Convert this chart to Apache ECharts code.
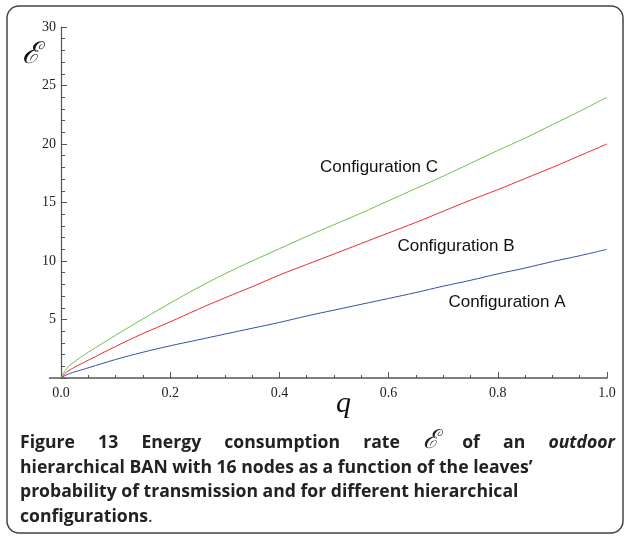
<!DOCTYPE html>
<html>
<head>
<meta charset="utf-8">
<script src="https://cdn.jsdelivr.net/npm/echarts@6/dist/echarts.min.js"></script>
<style>html,body{margin:0;padding:0;background:#fff;}#c{width:625px;height:540px;}</style>
</head>
<body>
<div id="c"></div>
<script>
var qValues = [0, 0.01, 0.025, 0.05, 0.1, 0.15, 0.2, 0.25, 0.3, 0.35, 0.4, 0.45, 0.5, 0.55, 0.6, 0.65, 0.7, 0.75, 0.8, 0.85, 0.9, 0.95, 1.0];
var configA = [0, 0.27, 0.52, 0.87, 1.58, 2.2, 2.75, 3.25, 3.75, 4.25, 4.75, 5.3, 5.8, 6.3, 6.8, 7.3, 7.85, 8.35, 8.9, 9.4, 9.95, 10.45, 11.0];
var configB = [0, 0.49, 0.92, 1.52, 2.7, 3.8, 4.8, 5.85, 6.85, 7.8, 8.8, 9.7, 10.6, 11.5, 12.4, 13.3, 14.25, 15.2, 16.1, 17.05, 18.0, 19.0, 20.0];
var configC = [0, 0.78, 1.4, 2.2, 3.65, 5.05, 6.4, 7.7, 8.9, 10.0, 11.05, 12.1, 13.1, 14.1, 15.15, 16.2, 17.25, 18.35, 19.45, 20.5, 21.65, 22.8, 24.0];
var xTicks = ['0.0', '0.2', '0.4', '0.6', '0.8', '1.0'];
var yTicks = ['0', '5', '10', '15', '20', '25', '30'];
var seriesNames = ['Configuration A', 'Configuration B', 'Configuration C'];

function pairs(ys) { return qValues.map(function (q, i) { return [q, ys[i]]; }); }

var chart = echarts.init(document.getElementById('c'), null, { renderer: 'canvas' });
var axisCol = '#555';
var serif = '"Liberation Serif", "DejaVu Serif", serif';
var sans = '"Liberation Sans", Arial, sans-serif';
var capFont = '"Open Sans", "Noto Sans", sans-serif';
var capSize = 17.6;

function mk(name, ys, color) {
  return { name: name, type: 'line', data: pairs(ys), smooth: 0.4, showSymbol: false, symbol: 'none',
    lineStyle: { color: color, width: 1 }, itemStyle: { color: color }, animation: false, z: 3 };
}

var mctx = document.createElement('canvas').getContext('2d');
function measure(t, font) { mctx.font = font; return mctx.measureText(t).width; }

var capY1 = 443, capDy = 24.5;
var boldF = 'bold ' + capSize + 'px ' + capFont;
var line1 = [
  { t: 'Figure', f: boldF }, { t: '13', f: boldF }, { t: 'Energy', f: boldF },
  { t: 'consumption', f: boldF }, { t: 'rate', f: boldF }, { t: '\u2130', f: 'italic 26px ' + serif, sym: true },
  { t: 'of', f: boldF }, { t: 'an', f: boldF }, { t: 'outdoor', f: 'italic ' + boldF }
];
var totalW = 0;
line1.forEach(function (w) { w.w = measure(w.t, w.f); totalW += w.w; });
var gap = (615 - 20 - totalW) / (line1.length - 1);

var labelFont = '17px ' + sans;
var graphics = [
  { type: 'rect', shape: { x: 7, y: 6, width: 616, height: 527, r: 12 }, style: { fill: 'none', stroke: '#444', lineWidth: 1.5 }, silent: true },
  { type: 'line', shape: { x1: 49, y1: 378, x2: 61, y2: 378 }, style: { stroke: axisCol, lineWidth: 1.5 }, silent: true },
  { type: 'text', x: 22, y: 40, style: { text: '\u2130', font: 'italic 30px ' + serif, fill: '#111' } },
  { type: 'text', x: 336, y: 389, style: { text: 'q', font: 'italic 30px ' + serif, fill: '#111' } },
  { type: 'text', x: 379, y: 167, style: { text: seriesNames[2], font: labelFont, fill: '#111', align: 'center', verticalAlign: 'middle' } },
  { type: 'text', x: 456, y: 246, style: { text: seriesNames[1], font: labelFont, fill: '#111', align: 'center', verticalAlign: 'middle' } },
  { type: 'text', x: 507, y: 302, style: { text: seriesNames[0], font: labelFont, fill: '#111', align: 'center', verticalAlign: 'middle' } },
  { type: 'text', x: 20, y: capY1 + capDy, style: { text: "hierarchical BAN with 16 nodes as a function of the leaves\u2019", font: boldF, fill: '#222', verticalAlign: 'middle' } },
  { type: 'text', x: 20, y: capY1 + 2 * capDy, style: { text: 'probability of transmission and for different hierarchical', font: boldF, fill: '#222', verticalAlign: 'middle' } },
  { type: 'text', x: 20, y: capY1 + 3 * capDy, style: { text: 'configurations', font: boldF, fill: '#222', verticalAlign: 'middle' } },
  { type: 'text', x: 20 + measure('configurations', boldF), y: capY1 + 3 * capDy, style: { text: '.', font: capSize + 'px ' + capFont, fill: '#222', verticalAlign: 'middle' } }
];
var cx = 20;
line1.forEach(function (w) {
  graphics.push({ type: 'text', x: cx, y: w.sym ? capY1 - 2 : capY1, style: { text: w.t, font: w.f, fill: '#222', verticalAlign: 'middle' } });
  cx += w.w + gap;
});

chart.setOption({
  animation: false,
  backgroundColor: '#fff',
  grid: { left: 61, right: 18, top: 27, bottom: 162, containLabel: false },
  xAxis: {
    type: 'value', min: 0, max: 1, interval: 0.2,
    axisLine: { show: true, lineStyle: { color: axisCol, width: 1.5 } },
    axisTick: { show: true, inside: true, length: 6, lineStyle: { color: axisCol } },
    minorTick: { show: true, splitNumber: 4, length: 3, lineStyle: { color: axisCol } },
    splitLine: { show: false },
    axisLabel: { color: '#222', fontFamily: serif, fontSize: 14, margin: 8,
      formatter: function (v) { return xTicks[Math.round(v / 0.2)]; } }
  },
  yAxis: {
    type: 'value', min: 0, max: 30, interval: 5,
    axisLine: { show: true, lineStyle: { color: axisCol, width: 1.2 } },
    axisTick: { show: true, inside: true, length: 6, lineStyle: { color: axisCol } },
    minorTick: { show: true, splitNumber: 5, length: 4, lineStyle: { color: axisCol } },
    splitLine: { show: false },
    axisLabel: { color: '#222', fontFamily: serif, fontSize: 14, margin: 5,
      formatter: function (v) { var s = yTicks[Math.round(v / 5)]; return v === 0 ? '' : s; } }
  },
  series: [
    mk(seriesNames[0], configA, '#3450a8'),
    mk(seriesNames[1], configB, '#f0282a'),
    mk(seriesNames[2], configC, '#6dbf4b')
  ],
  graphic: graphics
});
</script>
</body>
</html>
